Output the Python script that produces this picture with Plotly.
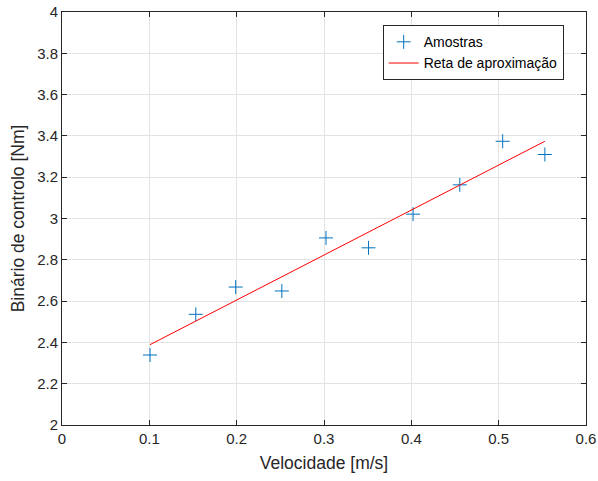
import plotly.graph_objects as go

vel = [0.1008, 0.1532, 0.1989, 0.2517, 0.3023, 0.351, 0.402, 0.4555, 0.5046, 0.5529]
binario = [2.339, 2.536, 2.668, 2.649, 2.906, 2.858, 3.021, 3.163, 3.374, 3.31]
fit_x = [0.1008, 0.5529]
fit_y = [2.389, 3.374]

x_ticks = [0, 0.1, 0.2, 0.3, 0.4, 0.5, 0.6]
x_labels = ["0", "0.1", "0.2", "0.3", "0.4", "0.5", "0.6"]
y_ticks = [2, 2.2, 2.4, 2.6, 2.8, 3, 3.2, 3.4, 3.6, 3.8, 4]
y_labels = ["2", "2.2", "2.4", "2.6", "2.8", "3", "3.2", "3.4", "3.6", "3.8", "4"]

font_fam = "Liberation Sans, Arial, sans-serif"
dark = "#262626"

fig = go.Figure()
fig.add_trace(go.Scatter(
    x=vel, y=binario, mode="markers", name="Amostras",
    marker=dict(symbol="cross-thin", size=10, color="#0072BD",
                line=dict(color="#0072BD", width=1)),
))
fig.add_trace(go.Scatter(
    x=fit_x, y=fit_y, mode="lines", name="Reta de aproximação",
    line=dict(color="#FF0000", width=1),
))

axis_common = dict(
    showgrid=True, gridcolor="#E3E3E3", gridwidth=1,
    showline=True, linecolor=dark, linewidth=1, mirror="ticks",
    ticks="inside", ticklen=5, tickcolor=dark, tickwidth=1,
    zeroline=False, automargin=False,
    tickfont=dict(family=font_fam, size=15, color=dark),
    title_font=dict(family=font_fam, size=17.5, color=dark),
)

fig.update_layout(
    width=598, height=481,
    margin=dict(l=62, r=12, t=12, b=56),
    paper_bgcolor="white", plot_bgcolor="white",
    font=dict(family=font_fam, color=dark),
    xaxis=dict(range=[0, 0.6], tickvals=x_ticks, ticktext=x_labels,
               title=dict(text="Velocidade [m/s]", standoff=10), **axis_common),
    yaxis=dict(range=[2, 4], tickvals=y_ticks, ticktext=y_labels,
               title=dict(text="Binário de controlo [Nm]", standoff=8), **axis_common),
    legend=dict(x=0.612, y=0.968, xanchor="left", yanchor="top",
                bgcolor="white", bordercolor=dark, borderwidth=1,
                font=dict(family=font_fam, size=14, color="black"),
                tracegroupgap=0, itemwidth=30),
    showlegend=True,
)

fig.write_html("out.html", config={"displayModeBar": False},
               post_script="document.body.style.margin='0px';document.body.style.padding='0px';")
